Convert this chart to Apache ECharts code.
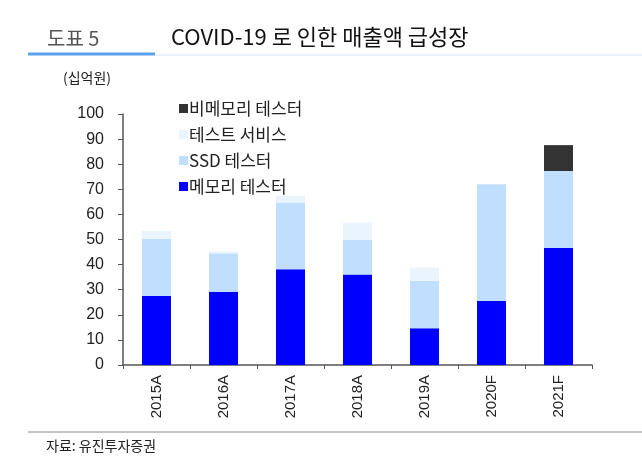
<!DOCTYPE html>
<html><head><meta charset="utf-8">
<script src="https://cdn.jsdelivr.net/npm/echarts@6/dist/echarts.min.js"></script>
<style>html,body{margin:0;padding:0;background:#fff}#c{width:642px;height:475px}</style>
</head><body><div id="c"></div>
<script>
const categories = ['2015A','2016A','2017A','2018A','2019A','2020F','2021F'];
const memoryTester = [27.5, 29.2, 38.1, 36.1, 14.6, 25.5, 46.6];
const ssdTester = [22.7, 15.3, 26.6, 13.7, 18.9, 46.5, 30.7];
const testService = [3.2, 0.7, 2.7, 7.0, 5.3, 0, 0];
const nonMemoryTester = [0, 0, 0, 0, 0, 0, 10.3];
const seriesNames = ['메모리 테스터', 'SSD 테스터', '테스트 서비스', '비메모리 테스터'];
const colors = ['#0000ff', '#c0dfff', '#eaf4ff', '#333333'];
const yTicks = {min: 0, max: 100, interval: 10};

const KR = '"Noto Sans CJK KR", "Noto Sans", sans-serif';
const AR = '"Liberation Sans", Arial, sans-serif';
const chart = echarts.init(document.getElementById('c'), null, {renderer: 'canvas'});
const dataSets = [memoryTester, ssdTester, testService, nonMemoryTester];
chart.setOption({
  animation: false,
  title: [
    {text: '도표 5', left: 42, top: 23, textStyle: {fontFamily: KR, fontSize: 20, fontWeight: 'normal', color: '#555'}},
    {text: 'COVID-19 로 인한 매출액 급성장', left: 166, top: 21, textStyle: {fontFamily: KR, fontSize: 22, fontWeight: 'normal', color: '#111'}},
    {text: '자료: 유진투자증권', left: 41, top: 434, textStyle: {fontFamily: KR, fontSize: 14, fontWeight: 'normal', color: '#222'}}
  ],
  graphic: [
    {type: 'line', shape: {x1: 155, y1: 55, x2: 642, y2: 55}, style: {stroke: '#d6e8fb', lineWidth: 1}},
    {type: 'line', shape: {x1: 28, y1: 54, x2: 155, y2: 54}, style: {stroke: '#5ba3e8', lineWidth: 3}},
    {type: 'line', shape: {x1: 28, y1: 432, x2: 642, y2: 432}, style: {stroke: '#888', lineWidth: 1}},
    {type: 'text', left: 63, top: 71, style: {text: '(십억원)', fontFamily: KR, fontSize: 14, fill: '#222'}}
  ],
  legend: {
    orient: 'vertical', left: 174, top: 95, itemWidth: 9, itemHeight: 9, itemGap: 9,
    icon: 'rect',
    data: [seriesNames[3], seriesNames[2], seriesNames[1], seriesNames[0]],
    textStyle: {fontFamily: KR, fontSize: 17, color: '#222', padding: [0, 0, 0, -4]}
  },
  grid: {left: 123, right: 50, top: 114, bottom: 110},
  xAxis: {
    type: 'category', data: categories,
    axisLine: {lineStyle: {color: '#555', width: 1.5}},
    axisTick: {show: true, length: 4, lineStyle: {color: '#555'}},
    axisLabel: {rotate: 90, margin: 10, fontFamily: AR, fontSize: 15, color: '#222'}
  },
  yAxis: {
    type: 'value', min: yTicks.min, max: yTicks.max, interval: yTicks.interval,
    splitLine: {show: false},
    axisLine: {show: true, lineStyle: {color: '#555', width: 1.5}},
    axisTick: {show: true, length: 5, lineStyle: {color: '#555'}},
    axisLabel: {margin: 19, fontFamily: AR, fontSize: 16, color: '#222'}
  },
  series: dataSets.map((d, i) => ({
    name: seriesNames[i], type: 'bar', stack: 'total', barWidth: 29,
    itemStyle: {color: colors[i]}, data: d
  }))
});
</script></body></html>
